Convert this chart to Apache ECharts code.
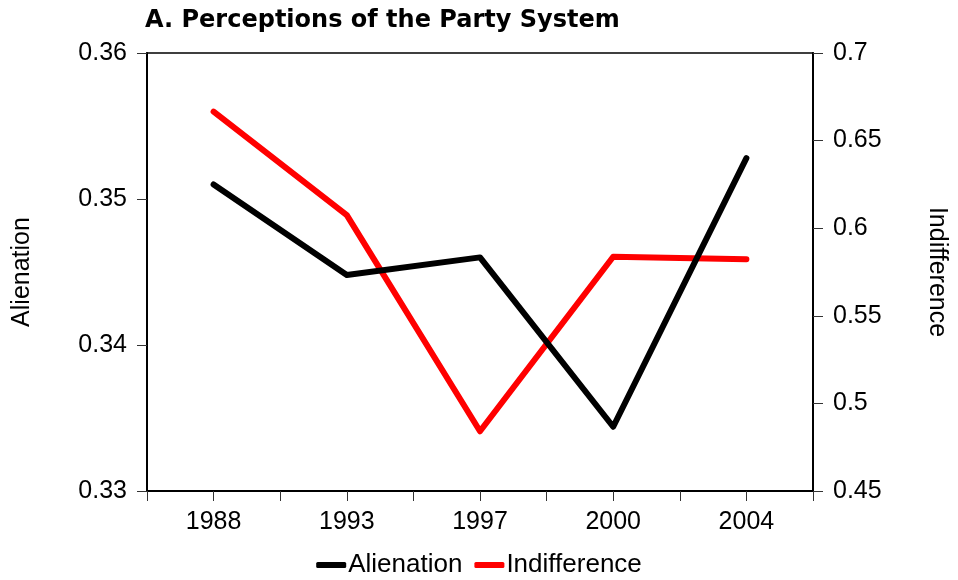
<!DOCTYPE html>
<html>
<head>
<meta charset="utf-8">
<title>Perceptions of the Party System</title>
<script src="https://cdn.jsdelivr.net/npm/echarts@6/dist/echarts.min.js"></script>
<style>
  html, body { margin: 0; padding: 0; background: #fff; }
  #chart { width: 958px; height: 580px; }
</style>
</head>
<body>
<div id="chart"></div>
<script>
// Survey years and the two perception measures
const years = ['1988', '1993', '1997', '2000', '2004'];
const alienation = [0.3510, 0.3448, 0.3460, 0.3344, 0.3528];
const indifference = [0.6665, 0.6075, 0.4841, 0.5837, 0.5823];

// Axis ranges and tick steps
const leftAxis = { min: 0.33, max: 0.36, interval: 0.01 };
const rightAxis = { min: 0.45, max: 0.7, interval: 0.05 };

const FONT = '"Liberation Sans", Arial, sans-serif';

const chart = echarts.init(document.getElementById('chart'), null, { renderer: 'canvas' });

chart.setOption({
  animation: false,
  backgroundColor: '#fff',
  title: {
    text: 'A. Perceptions of the Party System',
    left: 145,
    top: 9,
    padding: 0,
    textStyle: { fontFamily: '"DejaVu Sans", sans-serif', fontWeight: 'bold', fontSize: 24, color: '#000' }
  },
  legend: {
    data: ['Alienation', 'Indifference'],
    top: 547,
    left: 'center',
    itemWidth: 30,
    itemHeight: 6,
    itemGap: 12,
    icon: 'roundRect',
    textStyle: { fontFamily: FONT, fontSize: 26, color: '#000', padding: [0, 0, 0, -3] }
  },
  grid: {
    left: 147,
    right: 145,
    top: 53,
    bottom: 89,
    show: true,
    borderColor: '#000',
    borderWidth: 1.5,
    containLabel: false
  },
  xAxis: [
    {
      type: 'category',
      data: years,
      boundaryGap: true,
      axisLine: { lineStyle: { color: '#000', width: 2 } },
      axisTick: { show: true, length: 10, lineStyle: { color: '#333', width: 1 } },
      axisLabel: { fontFamily: FONT, fontSize: 25, color: '#000', margin: 19 },
      splitLine: { show: false }
    },
    {
      // second tick row placed at category centres
      type: 'category',
      data: years,
      position: 'bottom',
      boundaryGap: true,
      axisLine: { show: false },
      axisTick: { show: true, alignWithLabel: true, length: 10, lineStyle: { color: '#333', width: 1 } },
      axisLabel: { show: false },
      splitLine: { show: false }
    }
  ],
  yAxis: [
    {
      type: 'value',
      position: 'left',
      min: leftAxis.min,
      max: leftAxis.max,
      interval: leftAxis.interval,
      name: 'Alienation',
      nameLocation: 'middle',
      nameGap: 112,
      nameTextStyle: { fontFamily: FONT, fontSize: 25, color: '#000' },
      axisLine: { show: true, lineStyle: { color: '#000', width: 2 } },
      axisTick: { show: true, inside: false, length: 10, lineStyle: { color: '#333', width: 1 } },
      axisLabel: { fontFamily: FONT, fontSize: 25, color: '#000', margin: 20,
        formatter: v => String(parseFloat(v.toFixed(4))) },
      splitLine: { show: false }
    },
    {
      type: 'value',
      position: 'right',
      min: rightAxis.min,
      max: rightAxis.max,
      interval: rightAxis.interval,
      name: 'Indifference',
      nameLocation: 'middle',
      nameRotate: -90,
      nameGap: 111,
      nameTextStyle: { fontFamily: FONT, fontSize: 25, color: '#000' },
      axisLine: { show: true, lineStyle: { color: '#000', width: 2 } },
      axisTick: { show: true, inside: false, length: 10, lineStyle: { color: '#333', width: 1 } },
      axisLabel: { fontFamily: FONT, fontSize: 25, color: '#000', margin: 20,
        formatter: v => String(parseFloat(v.toFixed(4))) },
      splitLine: { show: false }
    }
  ],
  series: [
    {
      name: 'Alienation',
      type: 'line',
      xAxisIndex: 0,
      yAxisIndex: 0,
      data: alienation,
      showSymbol: false,
      symbol: 'none',
      color: '#000',
      lineStyle: { color: '#000', width: 6, cap: 'round', join: 'round' },
      z: 3
    },
    {
      name: 'Indifference',
      type: 'line',
      xAxisIndex: 0,
      yAxisIndex: 1,
      data: indifference,
      showSymbol: false,
      symbol: 'none',
      color: '#ff0000',
      lineStyle: { color: '#ff0000', width: 6, cap: 'round', join: 'round' },
      z: 2
    }
  ]
});
</script>
</body>
</html>
